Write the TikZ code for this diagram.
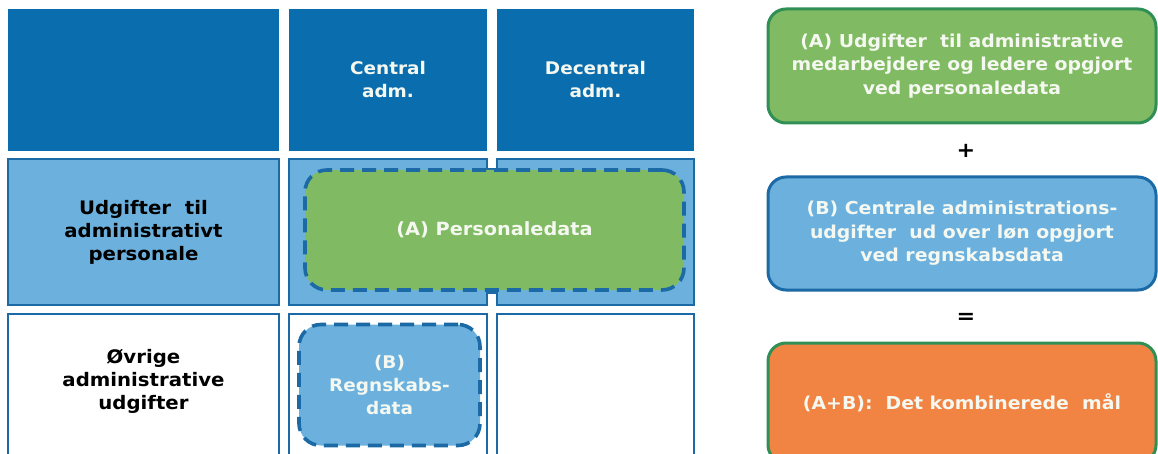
\documentclass[tikz,border=0pt]{standalone}
\usepackage{fontspec}
\setmainfont{DejaVu Sans}
\newfontfamily\boxfont{DejaVu Sans}[FakeStretch=1.06]
\definecolor{hdrblue}{HTML}{0A6DAE}
\definecolor{lightblue}{HTML}{6CB1DD}
\definecolor{edgeblue}{HTML}{1B6AA6}
\definecolor{fillgreen}{HTML}{80BA62}
\definecolor{edgegreen}{HTML}{2F8F55}
\definecolor{fillorange}{HTML}{F18443}
\definecolor{textwhite}{HTML}{F4F8F0}
\tikzset{
  gridtext/.style={font=\boxfont\bfseries\fontsize{17.4}{23}\selectfont},
  sidetext/.style={font=\boxfont\bfseries\fontsize{18.6}{23}\selectfont},
  hdrcell/.style={rectangle, fill=hdrblue, draw=none, inner sep=0pt,
    text=textwhite, align=center, gridtext},
  gridcell/.style={rectangle, draw=edgeblue, line width=2.6pt, inner sep=0pt,
    text=black, align=center, sidetext},
  dashbox/.style={rectangle, rounded corners=22pt, draw=edgeblue, line width=3.6pt,
    dash pattern=on 14pt off 8pt, inner sep=0pt, text=textwhite, align=center, gridtext},
  sumbox/.style={rectangle, rounded corners=18pt, line width=3pt, inner sep=0pt,
    text=textwhite, align=center, font=\boxfont\bfseries\fontsize{17.8}{23.5}\selectfont},
  opsign/.style={inner sep=0pt, text=black, font=\boxfont\bfseries\fontsize{21}{21}\selectfont}
}
\begin{document}
\begin{tikzpicture}[x=1pt, y=-1pt]
\useasboundingbox (0,0) rectangle (1158,454);
\fill[white] (0,0) rectangle (1158,454);
\begin{scope}
\clip (0,0) rectangle (1158,454);

% header row
\node[hdrcell, minimum width=271pt, minimum height=142pt] (h0) at (143.5,80) {};
\node[hdrcell, minimum width=198pt, minimum height=142pt] (h1) at (388,80) {Central\\adm.};
\node[hdrcell, minimum width=197pt, minimum height=142pt] (h2) at (595.5,80) {Decentral\\adm.};

% second row
\node[gridcell, fill=lightblue, minimum width=271pt, minimum height=146pt] (r1) at (143.5,232)
  {Udgifter\ \ til\\administrativt\\personale};
\draw[edgeblue, line width=2.6pt, fill=lightblue, line join=miter]
  (289,159) -- (487,159) -- (487,169) -- (497,169) -- (497,159) -- (694,159)
  -- (694,305) -- (497,305) -- (497,293) -- (487,293) -- (487,305) -- (289,305) -- cycle;
\coordinate (r2) at (491.5,232);

% third row
\node[gridcell, fill=white, minimum width=271pt, minimum height=161pt] (s1) at (143.5,394.5) {};
\node[gridcell, fill=white, minimum width=198pt, minimum height=161pt] (s2) at (388,394.5) {};
\node[gridcell, fill=white, minimum width=197pt, minimum height=161pt] (s3) at (595.5,394.5) {};
\node[align=center, sidetext] (s1t) at (143.5,381)
  {Øvrige\\administrative\\udgifter};

% data sources inside the grid
\node[dashbox, fill=fillgreen, minimum width=379pt, minimum height=120pt,
  font=\boxfont\bfseries\fontsize{18.2}{23}\selectfont] (pa) at (494.5,230) {(A) Personaledata};
\node[dashbox, fill=lightblue, minimum width=181pt, minimum height=121pt] (pb) at (389.5,385) {(B)\\Regnskabs-\\data};

% combination on the right
\node[sumbox, draw=edgegreen, fill=fillgreen, minimum width=388pt, minimum height=114pt] (ra) at (962,66)
  {(A) Udgifter\ \ til administrative\\medarbejdere og ledere opgjort\\ved personaledata};
\node[opsign] (plus) at (966,151) {+};
\node[sumbox, draw=edgeblue, fill=lightblue, minimum width=388pt, minimum height=113pt] (rb) at (962,233.5)
  {(B) Centrale administrations-\\udgifter\ \ ud over løn opgjort\\ved regnskabsdata};
\node[opsign] (eq) at (966,318) {=};
\node[sumbox, draw=edgegreen, fill=fillorange, minimum width=388pt, minimum height=120pt] (rc) at (962,403)
  {(A+B):\ \ Det kombinerede\ \ mål};
\end{scope}
\end{tikzpicture}
\end{document}
